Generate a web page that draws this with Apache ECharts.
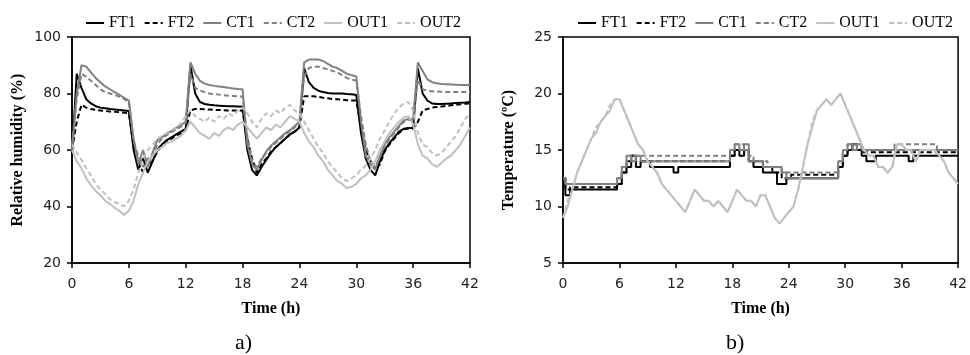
<!DOCTYPE html>
<html><head><meta charset="utf-8">
<script src="https://cdn.jsdelivr.net/npm/echarts@6/dist/echarts.min.js"></script>
<style>html,body{margin:0;padding:0;background:#fff}#c{width:970px;height:355px}</style>
</head><body><div id="c"></div>
<script>
// Time (h), 0.5 h sampling
const hours = [0,0.5,1,1.5,2,2.5,3,3.5,4,4.5,5,5.5,6,6.5,7,7.5,8,8.5,9,9.5,10,10.5,11,11.5,12,
12.5,13,13.5,14,14.5,15,15.5,16,16.5,17,17.5,18,18.5,19,19.5,20,20.5,21,21.5,22,22.5,23,23.5,24,
24.5,25,25.5,26,26.5,27,27.5,28,28.5,29,29.5,30,30.5,31,31.5,32,32.5,33,33.5,34,34.5,35,35.5,36,
36.5,37,37.5,38,38.5,39,39.5,40,40.5,41,41.5,42];
const seriesNames = ['FT1','FT2','CT1','CT2','OUT1','OUT2'];

// a) Relative humidity (%)
const rhFT1 = [58,87,82,78,76.5,75.5,75,74.8,74.5,74.3,74.2,74,73.8,
 60,53,57,52,56,60,62,63.5,64.5,65.5,66.5,67.5,
 90,80,77,76.3,76,75.8,75.7,75.6,75.5,75.5,75.4,75.3,
 60,53,51,54,56.5,59,61,62.5,64,65.5,66.5,68,
 89,84,82,81,80.5,80.2,80,80,80,79.8,79.7,79.5,
 66,57,53,51,56,60,62.5,64.5,66.5,67.5,67.8,67.8,
 89,80,77.5,76.5,76.3,76.3,76.4,76.5,76.6,76.7,76.8,77];
const rhFT2 = [60,70,76,75,74.5,74.2,74,73.8,73.6,73.5,73.4,73.2,73,
 62,56,52,55,56,59.5,61.5,63,64,65,66,67,
 74,74.5,74.5,74.4,74.3,74.2,74.2,74.1,74,74,74,73.9,
 64,57,52,55,57,59.5,61,62.5,64,65.5,66.5,68,
 79,79,79,78.8,78.5,78.3,78,78,77.8,77.6,77.5,77.5,
 68,60,56,53,55,59.5,62,64,66,67.3,67.6,67.6,
 70,74,74.5,75,75.2,75.4,75.6,75.8,76,76.2,76.4,76.5];
const rhCT1 = [60,80,90,89.5,87.5,85.5,84,82.5,81.5,80.5,79.5,78.5,77.5,
 64,55,60,54,59,63.5,64.5,65.8,66.8,67.8,68.8,70,
 91,87,84.5,83.5,83,82.7,82.5,82.3,82,81.8,81.6,81.5,
 62,55,53,56.5,59.5,61.5,63,64.5,66,67,68.5,70,
 91,92,92,92,91.5,90.5,89.5,89,88,87,86.5,86,
 70,58,55,53,58,62,64.5,66.5,68.5,70.5,71,71,
 91,88,85,84,83.6,83.4,83.3,83.2,83.1,83,83,83];
const rhCT2 = [62,78,87,86,84.5,83,81.5,80.5,80,79.5,78.8,78,77,
 63,58,54,57,58,62,64,65.3,66.3,67.3,68.3,69.5,
 87,82,81,80.5,80,79.8,79.6,79.4,79.2,79.1,79,78.9,
 65,56,54,57,59,61,62.5,64,65.5,66.5,68,69.5,
 86,89,89.5,89.5,89,88.5,88,87.5,86.5,85.5,85,84.5,
 72,62,56,54,57.5,61.5,64,66,68,70,70.5,70.5,
 85,81.5,81,80.8,80.7,80.6,80.5,80.5,80.5,80.5,80.5,80.5];
const rhOUT1 = [60,56,53.5,50,47.5,45.5,44,42,41,39.5,38.5,37,38.5,
 42,48,52,56,58,60,61,62.5,63,64,65,67,
 70,68,66,65,64,66,65,67,68,67,69,70,
 68,66,64,66,68,67,69,68,70,72,71,70,
 66,63,61,58,56,53,51,49,48,46.5,47,48,
 50,51,53,56,60,63,66,68,70,71.5,72,69,
 62,58,57,55,54,55.5,57,58,60,62,65,68];
const rhOUT2 = [62,59,56.5,53.5,51,48,46,44.5,42.5,41.5,41,40,42,
 46,52,57,60,62,64,65,66,67,68,69.5,72,
 74,72,71,70,71.5,70,72,71,73,72,74,75,
 73,70,68,71,73,72,74,73,75,76,74,73,
 70,67,64,61,59,56,54,52,50,49,50,51,
 53,54.5,57,60,64,67,70,73,75,76.5,77,74,
 66,62,61,59,58,59,61,63,65,68,71,73];

// b) Temperature (ºC)
const tFT1 = [12.5,11,11.5,11.5,11.5,11.5,11.5,11.5,11.5,11.5,11.5,11.5,12,
 13,13.5,14.5,13.5,14,14,13.5,13.5,13.5,13.5,13.5,13,
 13.5,13.5,13.5,13.5,13.5,13.5,13.5,13.5,13.5,13.5,13.5,14.5,
 15,14.5,15,14,13.5,13.5,13,13,13,12,12,12.5,
 12.5,12.5,12.5,12.5,12.5,12.5,12.5,12.5,12.5,12.5,13.5,14.5,
 15,15.5,15,14.5,14,14,14.5,14.5,14.5,14.5,14.5,14.5,
 14.5,14,14.5,14.5,14.5,14.5,14.5,14.5,14.5,14.5,14.5,14.5];
const tFT2 = [12.5,11.5,11.7,11.7,11.7,11.7,11.7,11.7,11.7,11.7,11.7,11.7,12,
 13,14,14.5,14,14,14,14,14,14,14,14,14,
 14,14,14,14,14,14,14,14,14,14,14,14.5,
 15,15,15,14,14,14,13.5,13.5,13,13,12.5,12.5,
 12.8,12.8,12.8,12.8,12.8,12.8,12.8,12.8,12.8,12.8,13.5,14.5,
 15,15.5,15,14.8,14.8,14.8,14.8,14.8,14.8,14.8,14.8,14.8,
 14.8,14.8,14.8,14.8,14.8,14.8,14.8,14.8,14.8,14.8,14.8,14.8];
const tCT1 = [12.5,12,12,12,12,12,12,12,12,12,12,12,12.5,
 13.5,14.5,14,14.5,14,14,14,14,14,14,14,14,
 14,14,14,14,14,14,14,14,14,14,14,15,
 15.5,15,15.5,14,14,14,13.5,13.5,13.5,13.5,13,12.5,
 12.5,12.5,12.5,12.5,12.5,12.5,12.5,12.5,12.5,12.5,14,15,
 15.5,15,15.5,15,15,15,15,15,15,15,15,15,
 15,15,15,15,15,15,15,15,15,15,15,15];
const tCT2 = [12.5,12,12,12,12,12,12,12,12,12,12,12,12.5,
 13.5,14,14.5,14.5,14.5,14.5,14.5,14.5,14.5,14.5,14.5,14.5,
 14.5,14.5,14.5,14.5,14.5,14.5,14.5,14.5,14.5,14.5,14.5,15,
 15.5,15.5,15,14.5,14,14,14,13.5,13.5,13.5,13,13,
 13,13,13,13,13,13,13,13,13,13,14,15,
 15.5,15.5,15.5,15,15,15,15,15,15,15,15.5,15.5,
 15.5,15.5,15.5,15.5,15.5,15.5,15.5,15,15,15,15,15];
const tOUT1 = [9,10,11.5,13,14,15,16,16.5,17.5,18,18.5,19.5,19.5,
 18.5,17.5,16.5,15.5,15,14,13.5,13,12,11.5,11,10.5,
 10,9.5,10.5,11.5,11,10.5,10.5,10,10.5,10,9.5,10.5,
 11.5,11,10.5,10.5,10,11,11,10,9,8.5,9,9.5,
 10,11.5,13.5,15.5,17,18.5,19,19.5,19,19.5,20,19,
 18,17,16,15,14.5,14.5,13.5,13.5,13,13.5,15.5,15.5,
 15,15,14,15,15,15,15,14.5,14,13,12.5,12];
const tOUT2 = [9,10.5,11.5,13,14,15,16,17,17.5,18,19,19.5,19.5,
 18.5,17.5,16.5,15.5,15,14,13.5,13,12,11.5,11,10.5,
 10,9.5,10.5,11.5,11,10.5,10.5,10,10.5,10,9.5,10.5,
 11.5,11,10.5,10.5,10,11,11,10,9,8.5,9,9.5,
 10,11.5,13.5,15.5,17.5,18.5,19,19.5,19,19.5,20,19,
 18,17,16,15,14.5,14.5,13.5,13.5,13,13.5,15.5,15.5,
 15,15,14,15,15,15,15,14.5,14,13,12.5,12];

const C = {FT:'#000000', CT:'#808080', OUT:'#c0c0c0'};
const styles = {FT1:[C.FT,false],FT2:[C.FT,true],CT1:[C.CT,false],CT2:[C.CT,true],OUT1:[C.OUT,false],OUT2:[C.OUT,true]};

function mk(name, vals, idx, step){
  const [color,dashed] = styles[name];
  return {type:'line', name, xAxisIndex:idx, yAxisIndex:idx,
    data: hours.map((t,i)=>[t, vals[i]]), symbol:'none', showSymbol:false,
    step: step || false, animation:false,
    lineStyle:{color, width:2, type: dashed ? [5,3] : 'solid'}, itemStyle:{color}};
}

const serif = 'Liberation Serif';
const sans = 'DejaVu Sans';
function xAx(gi){
  return {gridIndex:gi, type:'value', min:0, max:42, interval:6,
    axisLine:{show:true,onZero:false,lineStyle:{color:'#000',width:1.5}},
    axisTick:{show:true,length:5,lineStyle:{color:'#000',width:1.5}},
    axisLabel:{fontFamily:sans,fontSize:14,color:'#222',margin:14},
    splitLine:{show:false},
    name:'Time (h)', nameLocation:'middle', nameGap:38,
    nameTextStyle:{fontFamily:serif,fontWeight:'bold',fontSize:16,color:'#000'}};
}
function yAx(gi,min,max,iv,name,gap){
  return {gridIndex:gi, type:'value', min, max, interval:iv,
    axisLine:{show:true,onZero:false,lineStyle:{color:'#000',width:1.5}},
    axisTick:{show:true,length:5,lineStyle:{color:'#000',width:1.5}},
    axisLabel:{fontFamily:sans,fontSize:14,color:'#222',margin:11},
    splitLine:{show:false},
    name, nameLocation:'middle', nameRotate:90, nameGap:gap,
    nameTextStyle:{fontFamily:serif,fontWeight:'bold',fontSize:16,color:'#000'}};
}
const legendCommon = {data:seriesNames, top:15, itemWidth:18, itemHeight:4, itemGap:8,
  itemStyle:{opacity:0},
  textStyle:{fontFamily:serif,fontSize:16,color:'#000'}, padding:0};

const option = {
  backgroundColor:'#fff',
  animation:false,
  grid:[
    {left:72, top:37, width:398, height:226, show:true, borderColor:'#000', borderWidth:1.5},
    {left:563, top:37, width:398, height:226, show:true, borderColor:'#000', borderWidth:1.5}
  ],
  legend:[Object.assign({left:85},legendCommon), Object.assign({left:577},legendCommon)],
  xAxis:[xAx(0), xAx(1)],
  yAxis:[yAx(0,20,100,20,'Relative humidity (%)',46), yAx(1,5,25,5,'Temperature (ºC)',46)],
  graphic:[
    {type:'text', left:235, top:332, style:{text:'a)', font:'22px "Liberation Serif"', fill:'#000'}},
    {type:'text', left:726, top:332, style:{text:'b)', font:'22px "Liberation Serif"', fill:'#000'}}
  ],
  series:[
    mk('FT1',rhFT1,0), mk('FT2',rhFT2,0), mk('CT1',rhCT1,0), mk('CT2',rhCT2,0), mk('OUT1',rhOUT1,0), mk('OUT2',rhOUT2,0),
    mk('FT1',tFT1,1,'middle'), mk('FT2',tFT2,1,'middle'), mk('CT1',tCT1,1,'middle'), mk('CT2',tCT2,1,'middle'), mk('OUT1',tOUT1,1), mk('OUT2',tOUT2,1)
  ]
};
const chart = echarts.init(document.getElementById('c'), null, {renderer:'canvas'});
chart.setOption(option);
</script></body></html>
